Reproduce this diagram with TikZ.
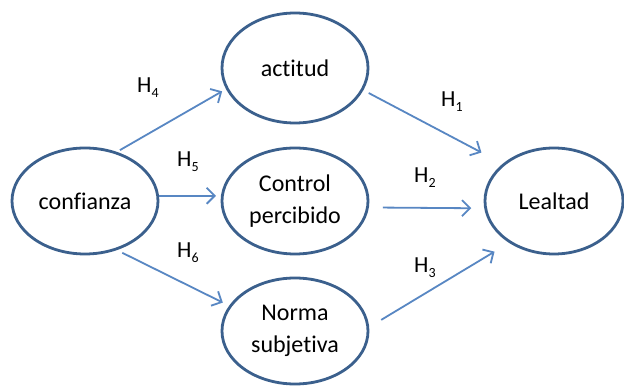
\documentclass[tikz,border=0pt]{standalone}
\usepackage{fontspec}
\setmainfont{Carlito}[Ligatures=NoCommon]
\usetikzlibrary{shapes.geometric,arrows.meta}
\definecolor{ringblue}{RGB}{59,96,141}
\definecolor{linkblue}{RGB}{88,135,195}
\tikzset{
  construct/.style={ellipse,draw=ringblue,line width=2.8pt,fill=white,
    minimum width=146pt,minimum height=106pt,inner sep=0pt,
    font=\fontsize{24}{32}\selectfont,align=center},
  link/.style={draw=linkblue,line width=1.8pt,
    -{Straight Barb[length=8pt,width=16pt,line width=1.8pt]}},
  hyp/.style={anchor=base west,inner sep=0pt,font=\fontsize{23}{23}\selectfont},
}
% hypothesis label: H with a lowered index
\newcommand\hyplabel[1]{H\raisebox{-4.5pt}{\fontsize{14}{14}\selectfont #1}}

\begin{document}
\begin{tikzpicture}[x=1pt,y=-1pt]
\useasboundingbox (0,0) rectangle (624,387);
\fill[white] (0,0) rectangle (624,387);

% constructs
\node[construct] (conf)  at (85,201)  {confianza};
\node[construct,minimum height=110pt] (act) at (295,68) {actitud};
\node[construct] (ctrl)  at (295,201) {Control\\percibido};
\node[construct] (norma) at (295,331) {Norma\\subjetiva};
\node[construct,minimum width=138pt] (leal) at (554,201) {Lealtad};

% hypothesised paths
\draw[link,shorten <=3.5pt,shorten >=4.5pt] (conf.57)  -- (act.197);
\draw[link,shorten >=5pt]                   (conf.4)   -- (ctrl.176);
\draw[link,shorten <=6pt,shorten >=7pt]     (conf.303) -- (norma.159);
\draw[link,shorten <=6pt,shorten >=24pt]    (act.342)  -- (leal.144);
\draw[link,shorten <=14pt,shorten >=13pt]   (ctrl.355) -- (leal.186);
\draw[link,shorten <=14pt,shorten >=17pt]   (norma.3)  -- (leal.223);

% hypothesis labels
\node[hyp] (h4) at (137,93)  {\hyplabel{4}};
\node[hyp] (h5) at (177,167) {\hyplabel{5}};
\node[hyp] (h6) at (177,258) {\hyplabel{6}};
\node[hyp] (h1) at (441,107) {\hyplabel{1}};
\node[hyp] (h2) at (414,183) {\hyplabel{2}};
\node[hyp] (h3) at (414,273) {\hyplabel{3}};
\end{tikzpicture}
\end{document}
